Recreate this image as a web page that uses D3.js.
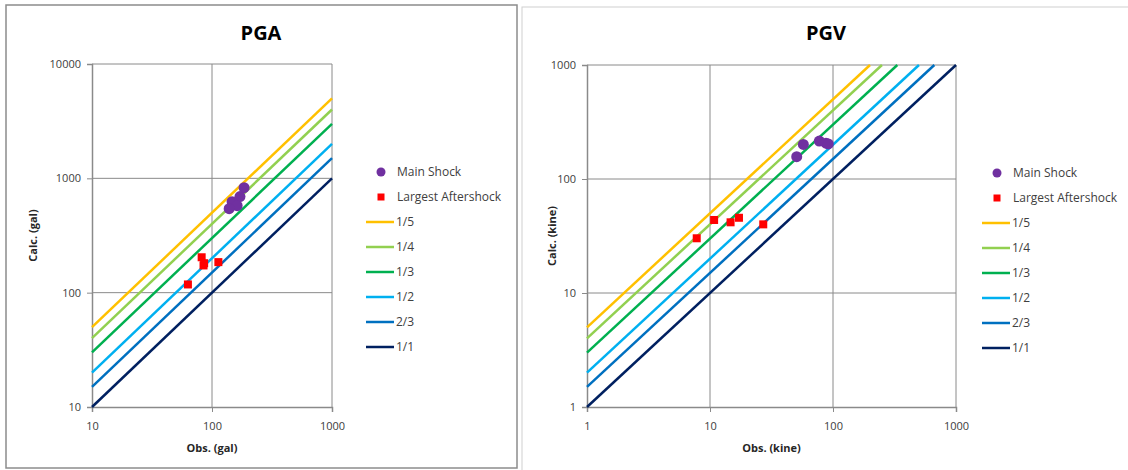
<!DOCTYPE html>
<html>
<head>
<meta charset="utf-8">
<script src="https://cdn.jsdelivr.net/npm/d3@7/dist/d3.min.js"></script>
<style>
  body { margin: 0; background: #fff; }
  svg { display: block; font-family: "Open Sans", "Liberation Sans", sans-serif; }
</style>
</head>
<body>
<svg id="chart" width="1128" height="470"></svg>
<script>
// ratio lines (Obs/Calc)
const ratioLabels = ['1/5', '1/4', '1/3', '1/2', '2/3', '1/1'];
const ratioFactors = [5, 4, 3, 2, 1.5, 1];
const ratioColors = ['#FFC000', '#92D050', '#00B050', '#00B0F0', '#0070C0', '#002060'];

// PGA (gal)
const pgaMainObs = [185, 171, 147, 162, 139];
const pgaMainCalc = [828, 692, 625, 577, 543];
const pgaAfterObs = [82, 86, 85, 113, 63];
const pgaAfterCalc = [204, 181, 173, 185, 118];
const pgaXTicks = [10, 100, 1000];
const pgaYTicks = [10, 100, 1000, 10000];

// PGV (kine)
const pgvMainObs = [50.7, 57.4, 77.4, 87.7, 91.6];
const pgvMainCalc = [157, 201, 215, 206, 203];
const pgvAfterObs = [7.8, 10.8, 14.7, 17.2, 27.1];
const pgvAfterCalc = [30.2, 43.7, 41.7, 45.7, 40];
const pgvXTicks = [1, 10, 100, 1000];
const pgvYTicks = [1, 10, 100, 1000];

const svg = d3.select('#chart');

// panel frames
svg.append('rect').attr('x', 6).attr('y', 5).attr('width', 511).attr('height', 463)
    .attr('fill', '#fff').attr('stroke', '#8c8c8c').attr('stroke-width', 1.5);
svg.append('rect').attr('x', 522).attr('y', 7).attr('width', 620).attr('height', 470)
    .attr('fill', '#fff').attr('stroke', '#d0d0d0').attr('stroke-width', 1);

function drawPanel(cfg) {
    const g = svg.append('g');
    const x = d3.scaleLog().domain(cfg.xDomain).range([cfg.left, cfg.right]);
    const y = d3.scaleLog().domain(cfg.yDomain).range([cfg.bottom, cfg.top]);

    // gridlines
    g.selectAll('.vgrid').data(cfg.xTicks.slice(1)).enter().append('line')
        .attr('x1', d => x(d)).attr('x2', d => x(d))
        .attr('y1', cfg.top).attr('y2', cfg.bottom)
        .attr('stroke', '#8a8a8a').attr('stroke-width', 1);
    g.selectAll('.hgrid').data(cfg.yTicks.slice(1)).enter().append('line')
        .attr('x1', cfg.left).attr('x2', cfg.right)
        .attr('y1', d => y(d)).attr('y2', d => y(d))
        .attr('stroke', '#8a8a8a').attr('stroke-width', 1);

    // axes
    const xAxis = d3.axisBottom(x).tickValues(cfg.xTicks).tickFormat(d3.format('d')).tickSize(5).tickPadding(10);
    const yAxis = d3.axisLeft(y).tickValues(cfg.yTicks).tickFormat(d3.format('d')).tickSize(5).tickPadding(6);
    const gx = g.append('g').attr('transform', `translate(0,${cfg.bottom})`).call(xAxis);
    const gy = g.append('g').attr('transform', `translate(${cfg.left},0)`).call(yAxis);
    [gx, gy].forEach(a => {
        a.select('.domain').attr('stroke', '#8a8a8a').attr('stroke-width', 1.5);
        a.selectAll('.tick line').attr('stroke', '#8a8a8a');
        a.selectAll('.tick text').attr('fill', '#404040').style('font-size', '11px')
            .style('font-family', '"Open Sans", sans-serif');
    });

    // ratio lines
    ratioFactors.forEach((f, i) => {
        const x0 = Math.max(cfg.xDomain[0], cfg.yDomain[0] / f);
        const x1 = Math.min(cfg.xDomain[1], cfg.yDomain[1] / f);
        g.append('line')
            .attr('x1', x(x0)).attr('y1', y(x0 * f))
            .attr('x2', x(x1)).attr('y2', y(x1 * f))
            .attr('stroke', ratioColors[i]).attr('stroke-width', 2.5);
    });

    // points
    g.selectAll('.after').data(cfg.afterObs).enter().append('rect')
        .attr('x', (d, i) => x(d) - 4).attr('y', (d, i) => y(cfg.afterCalc[i]) - 4)
        .attr('width', 8).attr('height', 8).attr('fill', '#FF0000');
    g.selectAll('.main').data(cfg.mainObs).enter().append('circle')
        .attr('cx', d => x(d)).attr('cy', (d, i) => y(cfg.mainCalc[i]))
        .attr('r', 5.5).attr('fill', '#7030A0');

    // titles
    g.append('text').attr('x', cfg.titleX).attr('y', 40).attr('text-anchor', 'middle')
        .style('font-size', '20px').style('font-weight', 'bold').attr('fill', '#000')
        .style('font-family', '"Liberation Sans Narrow", "Open Sans", sans-serif')
        .text(cfg.title);
    g.append('text').attr('x', (cfg.left + cfg.right) / 2).attr('y', cfg.bottom + 45)
        .attr('text-anchor', 'middle').style('font-size', '11px').style('font-weight', 'bold')
        .attr('fill', '#262626').text(cfg.xLabel);
    g.append('text')
        .attr('transform', `translate(${cfg.yLabelX},${(cfg.top + cfg.bottom) / 2}) rotate(-90)`)
        .attr('text-anchor', 'middle').style('font-size', '11px').style('font-weight', 'bold')
        .attr('fill', '#262626').text(cfg.yLabel);

    // legend
    const lg = g.append('g').attr('transform', `translate(${cfg.legendX},${cfg.legendY})`);
    lg.append('circle').attr('cx', 15).attr('cy', 0).attr('r', 4.5).attr('fill', '#7030A0');
    lg.append('text').attr('x', 31).attr('y', 4).style('font-size', '12px').attr('fill', '#404040').text('Main Shock');
    lg.append('rect').attr('x', 11.5).attr('y', 21.5).attr('width', 7).attr('height', 7).attr('fill', '#FF0000');
    lg.append('text').attr('x', 31).attr('y', 29).style('font-size', '12px').attr('fill', '#404040').text('Largest Aftershock');
    ratioLabels.forEach((lab, i) => {
        const yy = 50 + i * 25;
        lg.append('line').attr('x1', 0).attr('x2', 28).attr('y1', yy).attr('y2', yy)
            .attr('stroke', ratioColors[i]).attr('stroke-width', 2.5);
        lg.append('text').attr('x', 30).attr('y', yy + 4).style('font-size', '12px')
            .attr('fill', '#404040').text(lab);
    });
}

drawPanel({
    title: 'PGA', titleX: 261,
    xDomain: [10, 1000], yDomain: [10, 10000],
    left: 92, right: 332, top: 64, bottom: 407,
    xTicks: pgaXTicks, yTicks: pgaYTicks,
    mainObs: pgaMainObs, mainCalc: pgaMainCalc,
    afterObs: pgaAfterObs, afterCalc: pgaAfterCalc,
    xLabel: 'Obs. (gal)', yLabel: 'Calc. (gal)', yLabelX: 37,
    legendX: 366, legendY: 172
});

drawPanel({
    title: 'PGV', titleX: 826,
    xDomain: [1, 1000], yDomain: [1, 1000],
    left: 587, right: 956, top: 65, bottom: 407,
    xTicks: pgvXTicks, yTicks: pgvYTicks,
    mainObs: pgvMainObs, mainCalc: pgvMainCalc,
    afterObs: pgvAfterObs, afterCalc: pgvAfterCalc,
    xLabel: 'Obs. (kine)', yLabel: 'Calc. (kine)', yLabelX: 556,
    legendX: 982, legendY: 173
});
</script>
</body>
</html>
